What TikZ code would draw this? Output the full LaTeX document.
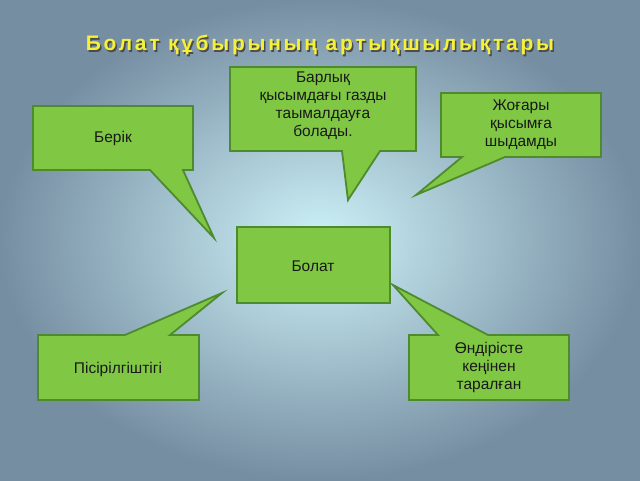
\documentclass[tikz,border=0pt]{standalone}
\usepackage{fontspec}
\setmainfont{Liberation Sans}
\begin{document}
\begin{tikzpicture}[x=1pt,y=-1pt,
  call/.style={fill=callg,draw=calld,line width=1.8pt,line join=miter},
  lbl/.style={align=center,font=\fontsize{15.5}{18}\selectfont,text=black!90}]
\definecolor{callg}{HTML}{80C844}
\definecolor{calld}{HTML}{4E8A2E}
\definecolor{ttl}{HTML}{F5F03A}
\useasboundingbox (0,0) rectangle (640,480);
\shade[inner color={rgb,255:red,205;green,242;blue,248},outer color={rgb,255:red,118;green,142;blue,162}] (0,0) rectangle (640,480);
\tikzset{ttlf/.style={font=\bfseries\fontsize{21}{23}\selectfont\addfontfeatures{LetterSpace=13}}}
\node[ttlf,text=black!70] at (321.5,46.5) {Болат құбырының артықшылықтары};
\node (title)[ttlf,text=ttl] at (320,45) {Болат құбырының артықшылықтары};
\draw[call] (230,67)--(416,67)--(416,151)--(380,151)--(348,200)--(342,151)--(230,151)--cycle;
\node (a)[lbl] at (323,106) {Барлық\\қысымдағы газды\\таымалдауға\\болады.};
\draw[call] (441,93)--(601,93)--(601,157)--(505,157)--(416,195)--(462,157)--(441,157)--cycle;
\node (b)[lbl] at (521,125) {Жоғары\\қысымға\\шыдамды};
\draw[call] (33,106)--(193,106)--(193,170)--(183,170)--(214,238)--(150,170)--(33,170)--cycle;
\node (c)[lbl] at (113,138) {Берік};
\draw[call] (237,227)--(390,227)--(390,303)--(237,303)--cycle;
\node (d)[lbl] at (313,266) {Болат};
\draw[call] (38,335)--(125,335)--(222,293)--(170,335)--(199,335)--(199,400)--(38,400)--cycle;
\node (e)[lbl] at (118,369) {Пісірілгіштігі};
\draw[call] (409,335)--(438,335)--(393,285)--(488,335)--(569,335)--(569,400)--(409,400)--cycle;
\node (f)[lbl] at (489,367) {Өндірісте\\кеңінен\\таралған};
\end{tikzpicture}
\end{document}
